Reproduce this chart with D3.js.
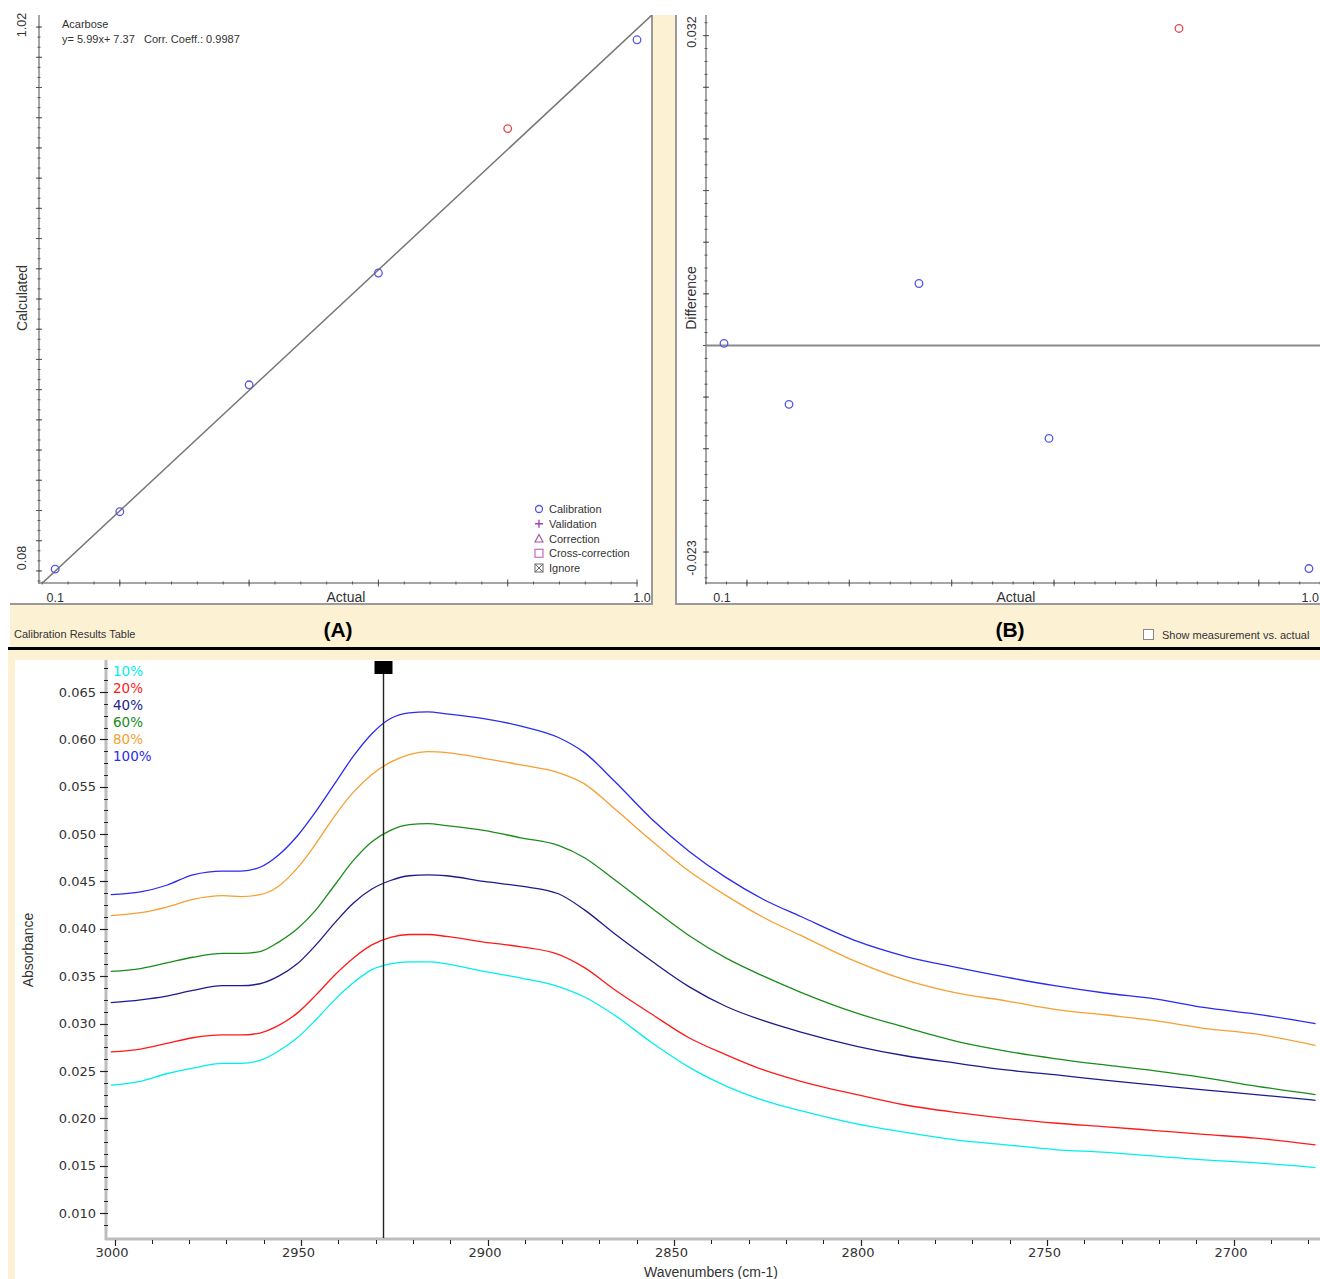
<!DOCTYPE html>
<html>
<head>
<meta charset="utf-8">
<script src="https://cdn.jsdelivr.net/npm/d3@7"></script>
<style>
  body { margin: 0; background: #fff; }
  svg { display: block; }
  text { font-family: "Liberation Sans", Arial, sans-serif; fill: #333; }
</style>
</head>
<body>
<svg id="chart" width="1320" height="1279"></svg>
<script>
// ---- panel A / B : calibration results ----
const actual = [0.1, 0.2, 0.4, 0.6, 0.8, 1.0];
const calculated = [0.103, 0.198, 0.408, 0.593, 0.832, 0.979];
const difference = [0.0002, -0.0057, 0.0060, -0.0090, 0.0307, -0.0216];
const pointKind = ['cal', 'cal', 'cal', 'cal', 'flag', 'cal'];
const fitSlope = 0.997;
const fitIntercept = 0.0;
const legendItems = ['Calibration', 'Validation', 'Correction', 'Cross-correction', 'Ignore'];

// ---- spectra ----
const wavenumbers = [3001, 2993, 2986, 2979, 2971, 2966, 2961, 2956, 2951, 2946, 2941, 2936, 2931,
  2926, 2921, 2916, 2911, 2901, 2891, 2881, 2874, 2866, 2856, 2846, 2836, 2826, 2816, 2801, 2788,
  2774, 2761, 2748, 2734, 2721, 2708, 2694, 2678];
const abs10 = [0.0235, 0.0239, 0.0247, 0.0253, 0.0258, 0.0258, 0.0261, 0.0271, 0.0285, 0.0304, 0.0325, 0.0343, 0.0357,
  0.0363, 0.0365, 0.0365, 0.0363, 0.0355, 0.0348, 0.0339, 0.0328, 0.0309, 0.0280, 0.0254, 0.0234, 0.0219, 0.0208, 0.0194, 0.0185,
  0.0177, 0.0172, 0.0167, 0.0164, 0.0160, 0.0156, 0.0153, 0.0148];
const abs20 = [0.0270, 0.0273, 0.0279, 0.0285, 0.0288, 0.0288, 0.0290, 0.0298, 0.0311, 0.0330, 0.0351, 0.0369, 0.0383,
  0.0391, 0.0394, 0.0394, 0.0392, 0.0386, 0.0381, 0.0373, 0.0359, 0.0336, 0.0310, 0.0285, 0.0267, 0.0251, 0.0239, 0.0225, 0.0214,
  0.0206, 0.0200, 0.0195, 0.0191, 0.0187, 0.0183, 0.0179, 0.0172];
const abs40 = [0.0322, 0.0325, 0.0329, 0.0335, 0.0340, 0.0340, 0.0342, 0.0350, 0.0363, 0.0383, 0.0406, 0.0427, 0.0442,
  0.0451, 0.0456, 0.0457, 0.0456, 0.0450, 0.0445, 0.0437, 0.0420, 0.0395, 0.0366, 0.0339, 0.0318, 0.0303, 0.0291, 0.0276, 0.0266,
  0.0258, 0.0251, 0.0246, 0.0240, 0.0235, 0.0230, 0.0225, 0.0219];
const abs60 = [0.0355, 0.0358, 0.0364, 0.0370, 0.0374, 0.0374, 0.0376, 0.0386, 0.0400, 0.0420, 0.0446, 0.0472, 0.0492,
  0.0504, 0.0510, 0.0511, 0.0509, 0.0504, 0.0496, 0.0488, 0.0475, 0.0452, 0.0422, 0.0393, 0.0369, 0.0350, 0.0333, 0.0311, 0.0296,
  0.0281, 0.0271, 0.0263, 0.0256, 0.0250, 0.0243, 0.0234, 0.0225];
const abs80 = [0.0414, 0.0417, 0.0423, 0.0431, 0.0435, 0.0434, 0.0436, 0.0445, 0.0464, 0.0490, 0.0519, 0.0544, 0.0563,
  0.0576, 0.0584, 0.0587, 0.0586, 0.0580, 0.0573, 0.0565, 0.0553, 0.0527, 0.0493, 0.0461, 0.0435, 0.0412, 0.0393, 0.0365, 0.0346,
  0.0332, 0.0324, 0.0315, 0.0309, 0.0303, 0.0295, 0.0289, 0.0277];
const abs100 = [0.0436, 0.0439, 0.0446, 0.0457, 0.0461, 0.0461, 0.0465, 0.0478, 0.0498, 0.0524, 0.0553, 0.0582, 0.0606,
  0.0622, 0.0628, 0.0629, 0.0627, 0.0622, 0.0614, 0.0602, 0.0586, 0.0556, 0.0516, 0.0482, 0.0454, 0.0431, 0.0413, 0.0387, 0.0371,
  0.0359, 0.0349, 0.0340, 0.0332, 0.0326, 0.0317, 0.0310, 0.0300];
const seriesLabels = ['10%', '20%', '40%', '60%', '80%', '100%'];
const seriesColors = ['#00eeee', '#ff1a1a', '#1c1c8c', '#1a8c1a', '#f5a030', '#2a2af0'];
const cursorWavenumber = 2928;
const yTickValues = [0.010, 0.015, 0.020, 0.025, 0.030, 0.035, 0.040, 0.045, 0.050, 0.055, 0.060, 0.065];
const xTickValues = [3000, 2950, 2900, 2850, 2800, 2750, 2700];

const spectra = [abs10, abs20, abs40, abs60, abs80, abs100].map((vals, i) => ({
  label: seriesLabels[i],
  color: seriesColors[i],
  points: vals.map((v, j) => ({w: wavenumbers[j], v: v}))
}));

const svg = d3.select('#chart');
const beige = '#fdf1d4';
const frameGray = '#9a9a9a';

// ---------- frames ----------
svg.append('rect').attr('x', 10).attr('y', 15).attr('width', 1310).attr('height', 633).attr('fill', beige);
svg.append('rect').attr('x', 10).attr('y', 15).attr('width', 642).attr('height', 589).attr('fill', '#fff');
svg.append('rect').attr('x', 677).attr('y', 15).attr('width', 643).attr('height', 589).attr('fill', '#fff');
svg.append('line').attr('x1', 10).attr('x2', 653).attr('y1', 604).attr('y2', 604).attr('stroke', frameGray).attr('stroke-width', 2);
svg.append('line').attr('x1', 652).attr('x2', 652).attr('y1', 15).attr('y2', 605).attr('stroke', frameGray).attr('stroke-width', 2);
svg.append('line').attr('x1', 676).attr('x2', 1320).attr('y1', 604).attr('y2', 604).attr('stroke', frameGray).attr('stroke-width', 2);
svg.append('line').attr('x1', 676).attr('x2', 676).attr('y1', 15).attr('y2', 605).attr('stroke', frameGray).attr('stroke-width', 2);
svg.append('rect').attr('x', 8).attr('y', 647).attr('width', 1312).attr('height', 3).attr('fill', '#000');
svg.append('rect').attr('x', 8).attr('y', 650).attr('width', 1312).attr('height', 629).attr('fill', beige);
svg.append('rect').attr('x', 15).attr('y', 660).attr('width', 1305).attr('height', 619).attr('fill', '#fff');

// bottom strip texts
svg.append('text').attr('x', 14).attr('y', 638).attr('font-size', 11).attr('fill', '#222').text('Calibration Results Table');
svg.append('text').attr('x', 338).attr('y', 637).attr('text-anchor', 'middle').attr('font-size', 21)
  .attr('font-weight', 'bold').style('fill', '#000').text('(A)');
svg.append('text').attr('x', 1010).attr('y', 637).attr('text-anchor', 'middle').attr('font-size', 21)
  .attr('font-weight', 'bold').style('fill', '#000').text('(B)');
svg.append('rect').attr('x', 1143.5).attr('y', 629.5).attr('width', 10).attr('height', 10)
  .attr('fill', '#fff').attr('stroke', '#888');
svg.append('text').attr('x', 1162).attr('y', 639).attr('font-size', 11).attr('fill', '#222').text('Show measurement vs. actual');

// helper for hand-made tick axes
function ticksY(g, scale, x, values, len) {
  g.selectAll(null).data(values).join('line')
    .attr('x1', x - len).attr('x2', x + len)
    .attr('y1', d => scale(d)).attr('y2', d => scale(d))
    .attr('stroke', '#555').attr('stroke-width', 1);
}
function ticksX(g, scale, y, values, len) {
  g.selectAll(null).data(values).join('line')
    .attr('y1', y - len).attr('y2', y + len)
    .attr('x1', d => scale(d)).attr('x2', d => scale(d))
    .attr('stroke', '#555').attr('stroke-width', 1);
}

// ---------- panel A ----------
const xA = d3.scaleLinear().domain([0.075, 1.0]).range([39, 637]);
const yA = d3.scaleLinear().domain([0.08, 1.02]).range([583, 15]);
const gA = svg.append('g');
gA.append('line').attr('x1', 39).attr('x2', 39).attr('y1', 15).attr('y2', 584).attr('stroke', '#888').attr('stroke-width', 1.5);
gA.append('line').attr('x1', 38).attr('x2', 638).attr('y1', 583).attr('y2', 583).attr('stroke', '#888').attr('stroke-width', 1.5);
ticksY(gA, yA, 39, d3.range(0, 60).map(i => 1.0 - i * 0.05 / 3).filter(v => v > 0.08), 1.5);
ticksY(gA, yA, 39, d3.range(0.1, 1.01, 0.05), 3);
ticksX(gA, xA, 583, d3.range(0.08, 1.0, 0.04), 1.5);
ticksX(gA, xA, 583, [0.2, 0.4, 0.6, 0.8, 1.0], 3.5);

gA.append('text').attr('transform', `translate(26,${yA(1.02) + 10}) rotate(-90)`).attr('text-anchor', 'middle')
  .attr('font-size', 12.5).text('1.02');
gA.append('text').attr('transform', `translate(26,${yA(0.08) - 25}) rotate(-90)`).attr('text-anchor', 'middle')
  .attr('font-size', 12.5).text('0.08');
gA.append('text').attr('transform', 'translate(27,298) rotate(-90)').attr('text-anchor', 'middle')
  .attr('font-size', 14).text('Calculated');
gA.append('text').attr('x', xA(0.1)).attr('y', 602).attr('text-anchor', 'middle').attr('font-size', 12.5).text('0.1');
gA.append('text').attr('x', 346).attr('y', 602).attr('text-anchor', 'middle').attr('font-size', 14).text('Actual');
gA.append('text').attr('x', xA(1.0) + 5).attr('y', 602).attr('text-anchor', 'middle').attr('font-size', 12.5).text('1.0');
gA.append('text').attr('x', 62).attr('y', 28).attr('font-size', 11).attr('fill', '#222').text('Acarbose');
gA.append('text').attr('x', 62).attr('y', 43).attr('font-size', 11).attr('fill', '#222')
  .attr('xml:space', 'preserve').text('y= 5.99x+ 7.37   Corr. Coeff.: 0.9987');

gA.append('clipPath').attr('id', 'clipA').append('rect').attr('x', 39).attr('y', 15).attr('width', 613).attr('height', 568);
const fitX = [xA.domain()[0], xA.invert(652)];
gA.append('path')
  .attr('clip-path', 'url(#clipA)')
  .attr('d', d3.line().x(d => xA(d)).y(d => yA(fitSlope * d + fitIntercept))(fitX))
  .attr('fill', 'none').attr('stroke', '#777').attr('stroke-width', 1.5);

const calPts = actual.map((a, i) => ({a: a, c: calculated[i], d: difference[i], k: pointKind[i]}));
gA.selectAll('circle.pt').data(calPts).join('circle')
  .attr('cx', d => xA(d.a)).attr('cy', d => yA(d.c)).attr('r', 3.8)
  .attr('fill', 'none').attr('stroke', d => d.k === 'flag' ? '#e04848' : '#5555e6').attr('stroke-width', 1.3);

// legend A
const legA = gA.append('g');
legendItems.forEach((name, i) => {
  const cy = 509 + i * 14.75;
  const cx = 539;
  if (i === 0) {
    legA.append('circle').attr('cx', cx).attr('cy', cy).attr('r', 3.5).attr('fill', 'none')
      .attr('stroke', '#5555e6').attr('stroke-width', 1.3);
  } else if (i === 1) {
    legA.append('path').attr('d', `M${cx - 4},${cy}H${cx + 4}M${cx},${cy - 4}V${cy + 4}`)
      .attr('stroke', '#a040b0').attr('stroke-width', 1.3);
  } else if (i === 2) {
    legA.append('path').attr('d', `M${cx},${cy - 4}L${cx + 4},${cy + 3.5}L${cx - 4},${cy + 3.5}Z`)
      .attr('fill', 'none').attr('stroke', '#a050a8').attr('stroke-width', 1.1);
  } else if (i === 3) {
    legA.append('rect').attr('x', cx - 4).attr('y', cy - 4).attr('width', 8).attr('height', 8)
      .attr('fill', 'none').attr('stroke', '#c060c0').attr('stroke-width', 1.1);
  } else {
    legA.append('rect').attr('x', cx - 4).attr('y', cy - 4).attr('width', 8).attr('height', 8)
      .attr('fill', 'none').attr('stroke', '#666').attr('stroke-width', 1);
    legA.append('path').attr('d', `M${cx - 4},${cy - 4}L${cx + 4},${cy + 4}M${cx + 4},${cy - 4}L${cx - 4},${cy + 4}`)
      .attr('stroke', '#666').attr('stroke-width', 1);
  }
  legA.append('text').attr('x', 549).attr('y', cy + 4).attr('font-size', 11).attr('fill', '#333').text(name);
});

// ---------- panel B ----------
const xB = d3.scaleLinear().domain([0.0723, 1.017]).range([706, 1320]);
const yB = d3.scaleLinear().domain([-0.023, 0.032]).range([583, 15]);
const gB = svg.append('g');
gB.append('line').attr('x1', 706).attr('x2', 706).attr('y1', 15).attr('y2', 584).attr('stroke', '#888').attr('stroke-width', 1.5);
gB.append('line').attr('x1', 705).attr('x2', 1320).attr('y1', 583).attr('y2', 583).attr('stroke', '#888').attr('stroke-width', 1.5);
ticksY(gB, yB, 706, d3.range(-0.0225, 0.032, 0.00125), 1.5);
ticksY(gB, yB, 706, d3.range(-0.020, 0.031, 0.005), 3);
const bTicks = d3.range(0, 31).map(i => 0.0723 + i * 0.0315);
ticksX(gB, xB, 583, bTicks, 1.5);
ticksX(gB, xB, 583, bTicks.filter((d, i) => i % 5 === 2), 3.5);

gB.append('line').attr('x1', 706).attr('x2', 1320).attr('y1', yB(0)).attr('y2', yB(0))
  .attr('stroke', '#8a8a8a').attr('stroke-width', 2);
gB.append('text').attr('transform', `translate(696,${yB(0.032) + 17}) rotate(-90)`).attr('text-anchor', 'middle')
  .attr('font-size', 12.5).text('0.032');
gB.append('text').attr('transform', `translate(696,${yB(-0.023) - 25}) rotate(-90)`).attr('text-anchor', 'middle')
  .attr('font-size', 12.5).text('-0.023');
gB.append('text').attr('transform', 'translate(696,298) rotate(-90)').attr('text-anchor', 'middle')
  .attr('font-size', 14).text('Difference');
gB.append('text').attr('x', xB(0.1) - 2).attr('y', 602).attr('text-anchor', 'middle').attr('font-size', 12.5).text('0.1');
gB.append('text').attr('x', 1016).attr('y', 602).attr('text-anchor', 'middle').attr('font-size', 14).text('Actual');
gB.append('text').attr('x', 1319).attr('y', 602).attr('text-anchor', 'end').attr('font-size', 12.5).text('1.0');

gB.selectAll('circle.pt').data(calPts).join('circle')
  .attr('cx', d => xB(d.a)).attr('cy', d => yB(d.d)).attr('r', 3.8)
  .attr('fill', 'none').attr('stroke', d => d.k === 'flag' ? '#e04848' : '#5555e6').attr('stroke-width', 1.3);

// ---------- spectra panel ----------
const xS = d3.scaleLinear().domain([3000, 2700]).range([114.5, 1233.5]);
const yS = d3.scaleLinear().domain([0.010, 0.065]).range([1213, 692]);
const gS = svg.append('g');

gS.append('line').attr('x1', 106).attr('x2', 106).attr('y1', 660).attr('y2', 1240).attr('stroke', '#bdbdbd').attr('stroke-width', 3);
gS.append('line').attr('x1', 105).attr('x2', 1320).attr('y1', 1239).attr('y2', 1239).attr('stroke', '#bdbdbd').attr('stroke-width', 3);

// y ticks
const yMinor = d3.range(0, 50).map(i => 0.0075 + i * 0.00125).filter(v => yS(v) > 662 && yS(v) < 1236);
gS.selectAll(null).data(yMinor).join('line')
  .attr('x1', 104).attr('x2', 108).attr('y1', d => Math.round(yS(d)) + 0.5).attr('y2', d => Math.round(yS(d)) + 0.5)
  .attr('stroke', '#222').attr('stroke-width', 1);
gS.selectAll(null).data(yTickValues).join('line')
  .attr('x1', 100).attr('x2', 106).attr('y1', d => Math.round(yS(d)) + 0.5).attr('y2', d => Math.round(yS(d)) + 0.5)
  .attr('stroke', '#222').attr('stroke-width', 1.2);
gS.selectAll(null).data(yTickValues).join('text')
  .attr('x', 96).attr('y', d => yS(d)).attr('dy', '0.36em').attr('text-anchor', 'end')
  .style('font-family', '"DejaVu Sans", Verdana, sans-serif').attr('font-size', 13).attr('fill', '#333')
  .text(d => d3.format('.3f')(d));

// x ticks
const xMinor = d3.range(2680, 3001, 10);
gS.selectAll(null).data(xMinor).join('line')
  .attr('x1', d => Math.round(xS(d)) + 0.5).attr('x2', d => Math.round(xS(d)) + 0.5).attr('y1', 1240).attr('y2', 1244)
  .attr('stroke', '#222').attr('stroke-width', 1);
gS.selectAll(null).data(xTickValues).join('line')
  .attr('x1', d => Math.round(xS(d)) + 0.5).attr('x2', d => Math.round(xS(d)) + 0.5).attr('y1', 1240).attr('y2', 1246)
  .attr('stroke', '#222').attr('stroke-width', 1.2);
gS.selectAll(null).data(xTickValues).join('text')
  .attr('x', d => xS(d) - 2.5).attr('y', 1257).attr('text-anchor', 'middle')
  .style('font-family', '"DejaVu Sans", Verdana, sans-serif').attr('font-size', 13).attr('fill', '#333')
  .text(d => d);

gS.append('text').attr('x', 711).attr('y', 1277).attr('text-anchor', 'middle').attr('font-size', 14)
  .attr('fill', '#333').text('Wavenumbers (cm-1)');
gS.append('text').attr('transform', 'translate(33,950) rotate(-90)').attr('text-anchor', 'middle')
  .attr('font-size', 14).attr('fill', '#333').text('Absorbance');

// curves (points run left to right in pixel space, so monotoneX is safe)
const line = d3.line().x(d => xS(d.w)).y(d => yS(d.v)).curve(d3.curveMonotoneX);
gS.selectAll('path.spec').data(spectra).join('path')
  .attr('class', 'spec')
  .attr('d', d => line(d.points))
  .attr('fill', 'none').attr('stroke', d => d.color).attr('stroke-width', 1.3);

// legend
gS.selectAll('text.leg').data(spectra).join('text')
  .attr('class', 'leg')
  .attr('x', 113).attr('y', (d, i) => 670.7 + i * 17).attr('dy', '0.36em')
  .style('font-family', '"DejaVu Sans", Verdana, sans-serif').attr('font-size', 13.5)
  .style('fill', d => d.color).text(d => d.label);

// cursor
const cx = Math.round(xS(cursorWavenumber)) + 0.5;
gS.append('line').attr('x1', cx).attr('x2', cx).attr('y1', 672).attr('y2', 1238)
  .attr('stroke', '#222').attr('stroke-width', 1.4);
gS.append('rect').attr('x', cx - 9).attr('y', 661).attr('width', 18).attr('height', 13).attr('fill', '#000');
</script>
</body>
</html>
